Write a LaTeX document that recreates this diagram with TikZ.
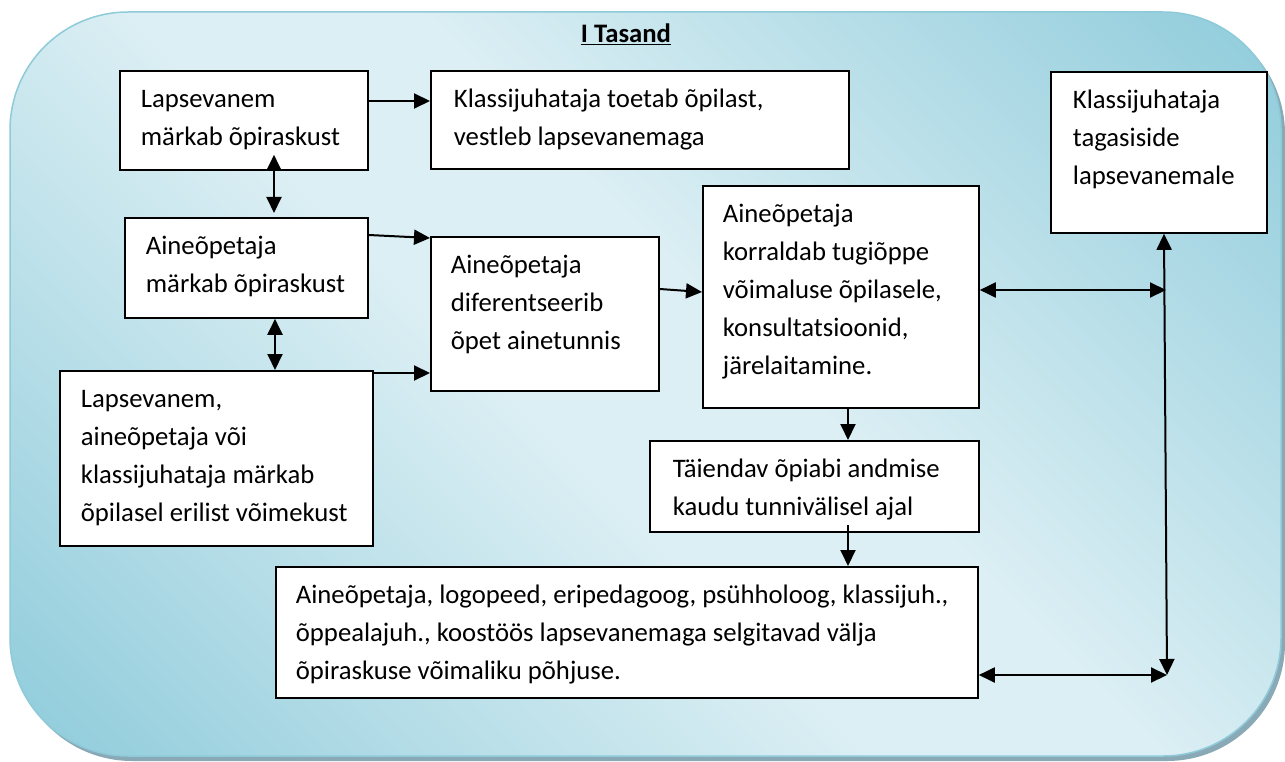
\documentclass[tikz,border=0pt]{standalone}
\usepackage{fontspec}
\setmainfont{Carlito}
\usetikzlibrary{arrows.meta,calc}
\definecolor{bgdark}{HTML}{92CDDC}
\definecolor{bglight}{HTML}{DCEFF4}
\definecolor{bgedge}{HTML}{8FCAD9}
\definecolor{shadowc}{HTML}{8AA9B6}
\pgfdeclareverticalshading{bgshade}{100bp}{color(0bp)=(bgdark); color(16bp)=(bgdark); color(45bp)=(bglight); color(55bp)=(bglight); color(84bp)=(bgdark); color(100bp)=(bgdark)}
\newcommand\bxt[4]{\parbox[t][#2][t]{#1}{\raggedright\leftskip=#3\relax\parindent=0pt\noindent\rule{0pt}{37pt}#4}}
\begin{document}
\begin{tikzpicture}[x=1pt,y=-1pt,
  box/.style={draw=black, fill=white, line width=1.8pt, anchor=north west, inner sep=0pt,
    font=\fontsize{26.7}{38}\selectfont},
  tip/.style={Triangle[length=16pt,width=15pt]},
  arr/.style={line width=2pt, -{Triangle[length=16pt,width=15pt]}},
  darr/.style={line width=2pt, {Triangle[length=16pt,width=15pt]}-{Triangle[length=16pt,width=15pt]}}]
\useasboundingbox (0,0) rectangle (1285,762);
% background panel
\path[fill=shadowc,rounded corners=118pt] (14,16) rectangle (1285,761);
\shade[shading=bgshade, shading angle=-45, rounded corners=118pt] (10,12) rectangle (1281,756);
\draw[bgedge, line width=1.5pt, rounded corners=118pt] (10,12) rectangle (1281,756);
% title
\node[anchor=base, font=\fontsize{26.7}{32}\selectfont\bfseries] (title) at (626,43) {\underline{I Tasand}};
% boxes
\node[box] (b1) at (119,70) {\bxt{248pt}{99pt}{21pt}{Lapsevanem\\ märkab õpiraskust}};
\node[box] (b2) at (430,70) {\bxt{418pt}{98pt}{23pt}{Klassijuhataja toetab õpilast,\\ vestleb lapsevanemaga}};
\node[box] (b3) at (124,217) {\bxt{243pt}{100pt}{21pt}{Aineõpetaja\\ märkab õpiraskust}};
\node[box] (b4) at (59,370) {\bxt{313pt}{175pt}{21pt}{Lapsevanem,\\ aineõpetaja või\\ klassijuhataja märkab\\ õpilasel erilist võimekust}};
\node[box] (b5) at (430,236) {\bxt{228pt}{154pt}{20pt}{Aineõpetaja\\ diferentseerib\\ õpet ainetunnis}};
\node[box] (b6) at (702,185) {\bxt{276pt}{222pt}{20pt}{Aineõpetaja\\ korraldab tugiõppe\\ võimaluse õpilasele,\\ konsultatsioonid,\\ järelaitamine.}};
\node[box] (b7) at (1050,71) {\bxt{216pt}{161pt}{22pt}{Klassijuhataja\\ tagasiside\\ lapsevanemale}};
\node[box] (b8) at (649,440) {\bxt{329pt}{91pt}{23pt}{Täiendav õpiabi andmise\\ kaudu tunnivälisel ajal}};
\node[box] (b9) at (275,566) {\bxt{702pt}{131pt}{20pt}{Aineõpetaja, logopeed, eripedagoog, psühholoog, klassijuh.,\\ õppealajuh., koostöös lapsevanemaga selgitavad välja\\ õpiraskuse võimaliku põhjuse.}};
% junction points
\coordinate (j1) at (1166,290);
\coordinate (j2) at (1167,675);
% connectors
\draw[arr] ([yshift=-31pt]b1.north east) -- ([yshift=-31pt]b2.north west);
\draw[darr] ([xshift=155pt,yshift=16pt]b1.south west) -- ([xshift=150pt,yshift=4pt]b3.north west);
\draw[darr] ([xshift=151pt]b3.south west) -- ([xshift=216pt]b4.north west);
\draw[arr] ([yshift=-18pt]b3.north east) -- ([yshift=-2pt]b5.north west);
\draw[arr] ([yshift=-3pt]b4.north east) -- ([yshift=-137pt]b5.north west);
\draw[arr] ([yshift=-53pt]b5.north east) -- ([yshift=-107pt]b6.north west);
\draw[darr] ([yshift=-105pt]b6.north east) -- (j1);
\draw[darr] ([yshift=-109pt]b9.north east) -- (j2);
\draw[darr] ([xshift=114pt]b7.south west) -- (j2);
\draw[arr] ([xshift=146pt]b6.south west) -- ([xshift=199pt]b8.north west);
\draw[arr] ([xshift=199pt,yshift=8pt]b8.south west) -- ([xshift=573pt]b9.north west);
\end{tikzpicture}
\end{document}
